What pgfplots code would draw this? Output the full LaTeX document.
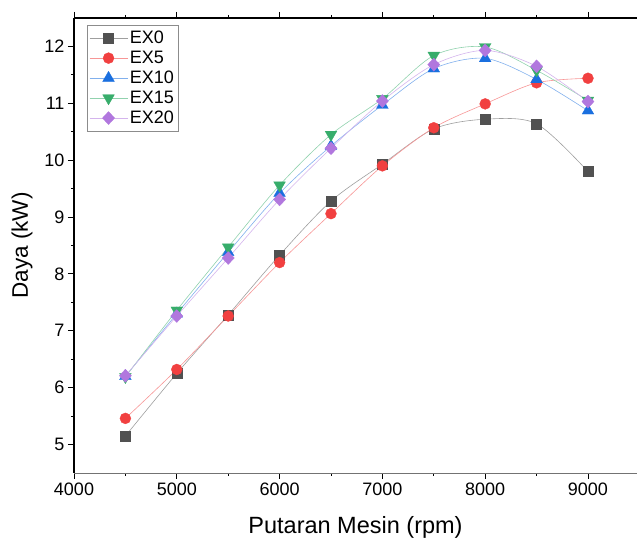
\documentclass[border=0pt]{standalone}
\usepackage{fontspec}
\setmainfont{Liberation Sans}
\usepackage{pgfplots}
\pgfplotsset{compat=1.18}
\usetikzlibrary{calc}
\definecolor{cEX0}{HTML}{515151}
\definecolor{cEX5}{HTML}{F14040}
\definecolor{cEX10}{HTML}{1A6FDF}
\definecolor{cEX15}{HTML}{37AD6B}
\definecolor{cEX20}{HTML}{B177DE}

\pgfplotsset{
  lineser/.style={smooth, line width=0.6pt, draw=#1!55!white,
    mark options={solid, fill=#1, draw=#1, line width=0.3pt}},
}

\begin{document}
\begin{tikzpicture}
\begin{axis}[
  name=main,
  scale only axis, width=563pt, height=455pt,
  xmin=4000, xmax=9477, ymin=4.5, ymax=12.5,
  axis x line*=bottom, axis y line*=left,
  x axis line style={black!55, line width=0.9pt},
  y axis line style={black, line width=1.3pt},
  xtick={4000,5000,...,9000}, ytick={5,6,...,12},
  minor x tick num=1, minor y tick num=1,
  tick align=outside, major tick length=6pt, minor tick length=3pt,
  tick style={black, line width=0.9pt},
  /pgf/number format/assume math mode=true,
  /pgf/number format/1000 sep={},
  ticklabel style={font=\fontsize{18}{20}\selectfont},
  xlabel={Putaran Mesin (rpm)}, ylabel={Daya (kW)},
  every axis x label/.style={at={(axis description cs:0.5,-0.1187)}, anchor=center,
    font=\fontsize{23.5}{25}\selectfont},
  every axis y label/.style={at={(axis description cs:-0.0924,0.5)}, rotate=90, anchor=center,
    font=\fontsize{22.5}{24}\selectfont},
  legend cell align=left,
  legend style={at={(axis description cs:0.023,0.985)}, anchor=north west,
    draw=black!45, line width=0.6pt, font=\fontsize{18}{20}\selectfont,
    inner xsep=2pt, inner ysep=4pt, row sep=2pt},
  legend image code/.code={\draw[mark repeat=2,mark phase=2] plot coordinates {(0pt,0pt)(19pt,0pt)(38pt,0pt)};},
]
\addplot[lineser=cEX0, mark=square*, mark size=5pt] coordinates {
  (4500,5.15) (5000,6.25) (5500,7.28) (6000,8.33) (6500,9.28)
  (7000,9.93) (7500,10.55) (8000,10.72) (8500,10.64) (9000,9.80)};
\addlegendentry{EX0}
\addplot[lineser=cEX5, mark=*, mark size=5.5pt] coordinates {
  (4500,5.46) (5000,6.32) (5500,7.26) (6000,8.20) (6500,9.06)
  (7000,9.90) (7500,10.57) (8000,10.99) (8500,11.36) (9000,11.44)};
\addlegendentry{EX5}
\addplot[lineser=cEX10, mark=triangle*, mark size=6.8pt] coordinates {
  (4500,6.20) (5000,7.30) (5500,8.38) (6000,9.42) (6500,10.25)
  (7000,10.97) (7500,11.61) (8000,11.79) (8500,11.42) (9000,10.87)};
\addlegendentry{EX10}
\addplot[lineser=cEX15, mark=triangle*, mark size=6.8pt, every mark/.append style={rotate=180}] coordinates {
  (4500,6.19) (5000,7.36) (5500,8.47) (6000,9.56) (6500,10.45)
  (7000,11.08) (7500,11.84) (8000,11.99) (8500,11.58) (9000,11.05)};
\addlegendentry{EX15}
\addplot[lineser=cEX20, mark=diamond*, mark size=6.5pt, every mark/.append style={xscale=1.25}] coordinates {
  (4500,6.21) (5000,7.26) (5500,8.28) (6000,9.31) (6500,10.21)
  (7000,11.04) (7500,11.68) (8000,11.93) (8500,11.65) (9000,11.03)};
\addlegendentry{EX20}
\end{axis}
\begin{axis}[
  scale only axis, width=563pt, height=455pt,
  xmin=4000, xmax=9477, ymin=4.5, ymax=12.5,
  axis x line*=top, hide y axis,
  x axis line style={black, line width=1.3pt},
  xtick={4000,5000,...,9000}, minor x tick num=1, xticklabels={},
  tick align=outside, major tick length=6pt, minor tick length=3pt,
  tick style={black, line width=0.9pt},
]
\end{axis}
\pgfresetboundingbox
\path[use as bounding box] ($(main.south west)+(-74pt,-70pt)$) rectangle ($(main.north east)+(0pt,18pt)$);
\end{tikzpicture}
\end{document}
